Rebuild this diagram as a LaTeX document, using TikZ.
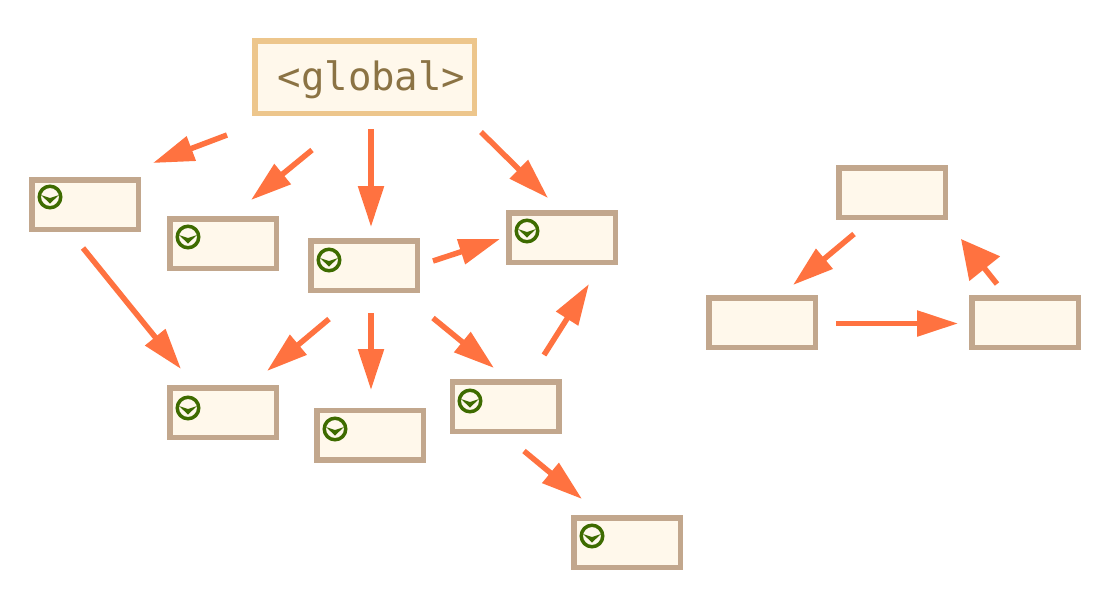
\documentclass[tikz,border=0pt]{standalone}
\usepackage{fontspec}
\setmonofont{DejaVu Sans Mono}
\usetikzlibrary{arrows.meta}
\definecolor{boxfill}{HTML}{FFF8EB}
\definecolor{boxline}{HTML}{C2A78D}
\definecolor{globline}{HTML}{EDC68C}
\definecolor{globtext}{HTML}{8B7344}
\definecolor{arrowcol}{HTML}{FF7240}
\definecolor{iconcol}{HTML}{3E6B00}
\tikzset{
  fnbox/.style={draw=boxline,fill=boxfill,line width=5.5pt,minimum width=106.5pt,minimum height=49.5pt,inner sep=0pt,outer sep=0pt},
  globbox/.style={draw=globline,fill=boxfill,line width=5.5pt,minimum width=219.5pt,minimum height=72.5pt,inner sep=0pt,outer sep=0pt},
  globlabel/.style={inner sep=0pt,text=globtext,font=\ttfamily\fontsize{39}{39}\selectfont},
  link/.style={draw=arrowcol,line width=5.5pt,-{Triangle[length=41pt,width=25pt,color=arrowcol]}},
  biglink/.style={draw=arrowcol,line width=5.5pt,-{Triangle[length=38pt,width=38pt,color=arrowcol]}},
  iconring/.style={circle,draw=iconcol,line width=3.5pt,minimum size=21.5pt,inner sep=0pt,outer sep=0pt},
}
\newcommand{\chevmark}[1]{%
  \fill[iconcol] ([shift={(-9,-2)}]#1.center) -- ([shift={(0,1)}]#1.center) -- ([shift={(9,-2)}]#1.center) -- ([shift={(0,6.5)}]#1.center) -- cycle;}
\begin{document}
\begin{tikzpicture}[x=1pt,y=-1pt]
\useasboundingbox[fill=white] (0,0) rectangle (1109,614);
\node[globbox] (global) at (364.5,77) {};
\node[globlabel] (globaltext) at (371.5,79.5) {<global>};
\node[fnbox] (f1) at (85,204.5) {};
\node[fnbox] (f2) at (223,243.5) {};
\node[fnbox] (f3) at (364,265.5) {};
\node[fnbox] (f4) at (562,237.5) {};
\node[fnbox] (f5) at (223,412.5) {};
\node[fnbox] (f6) at (370,435) {};
\node[fnbox] (f7) at (505.5,406.5) {};
\node[fnbox] (f8) at (627,542.5) {};
\node[fnbox] (r1) at (892,192.5) {};
\node[fnbox] (r2) at (762,322.5) {};
\node[fnbox] (r3) at (1025,322.5) {};
\node[iconring] (i1) at (50,197) {};
\node[iconring] (i2) at (188,237) {};
\node[iconring] (i3) at (329,260) {};
\node[iconring] (i4) at (527,231) {};
\node[iconring] (i5) at (188,408) {};
\node[iconring] (i6) at (335,429) {};
\node[iconring] (i7) at (470,401) {};
\node[iconring] (i8) at (592,536) {};
\foreach \n in {i1,i2,i3,i4,i5,i6,i7,i8}{\chevmark{\n}}
\coordinate (a1) at (227,135); \coordinate (a2) at (153,163);
\coordinate (b1) at (312,150); \coordinate (b2) at (251,200);
\coordinate (c1) at (371,129); \coordinate (c2) at (371,227);
\coordinate (d1) at (481,132); \coordinate (d2) at (548,198);
\coordinate (e1) at (83,248);  \coordinate (e2) at (181,369);
\coordinate (g1) at (433,261); \coordinate (g2) at (500,239);
\coordinate (h1) at (329,319); \coordinate (h2) at (267,371);
\coordinate (j1) at (371,313); \coordinate (j2) at (371,390);
\coordinate (k1) at (433,318); \coordinate (k2) at (494,368);
\coordinate (l1) at (544,355); \coordinate (l2) at (589,284);
\coordinate (m1) at (524,451); \coordinate (m2) at (582,499);
\coordinate (n1) at (854,234); \coordinate (n2) at (793,285);
\coordinate (o1) at (836,323.5); \coordinate (o2) at (958,323.5);
\coordinate (p1) at (997,284); \coordinate (p2) at (961,239);
\foreach \s/\t in {a1/a2,b1/b2,c1/c2,d1/d2,e1/e2,g1/g2,h1/h2,j1/j2,k1/k2,l1/l2,m1/m2,n1/n2,o1/o2}{
  \draw[link] (\s) -- (\t);
}
\draw[biglink] (p1) -- (p2);
\end{tikzpicture}
\end{document}
